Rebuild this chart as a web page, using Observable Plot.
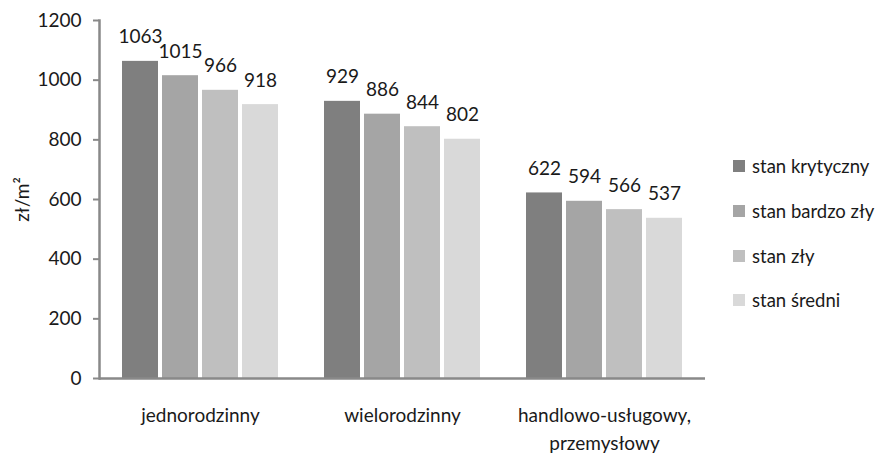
<!DOCTYPE html>
<html>
<head>
<meta charset="utf-8">
<script src="https://cdn.jsdelivr.net/npm/d3@7"></script>
<script src="https://cdn.jsdelivr.net/npm/@observablehq/plot@0.6"></script>
<style>
  html, body { margin: 0; padding: 0; background: #fff; }
  #wrap { position: relative; width: 875px; height: 454px; font-family: Lato, "Noto Sans", sans-serif; color: #1a1a1a; }
  #legend { position: absolute; left: 733px; top: 0; }
  .item { position: absolute; left: 0; white-space: nowrap; font-size: 18.5px; line-height: 20px; display: flex; align-items: center; }
  .sw { width: 12px; height: 12px; margin-right: 7px; display: inline-block; }
</style>
</head>
<body>
<div id="wrap"><div id="chart"></div><div id="legend"></div></div>
<script>
const categories = ["jednorodzinny", "wielorodzinny", "handlowo-usługowy,\nprzemysłowy"];
const series = ["stan krytyczny", "stan bardzo zły", "stan zły", "stan średni"];
const valuesJednorodzinny = [1063, 1015, 966, 918];
const valuesWielorodzinny = [929, 886, 844, 802];
const valuesHandlowo = [622, 594, 566, 537];
const colors = ["#7f7f7f", "#a5a5a5", "#bfbfbf", "#d9d9d9"];
const yTicks = [0, 200, 400, 600, 800, 1000, 1200];
const yLabel = "zł/m²";

const valueRows = [valuesJednorodzinny, valuesWielorodzinny, valuesHandlowo];
const data = categories.flatMap((c, i) => series.map((s, j) => ({category: c, series: s, value: valueRows[i][j]})));

const chart = Plot.plot({
  width: 875,
  height: 454,
  marginLeft: 99,
  marginRight: 170,
  marginTop: 20,
  marginBottom: 76,
  style: {fontFamily: "Lato, 'Noto Sans', sans-serif", fontSize: "19px", color: "#1a1a1a", background: "#fff"},
  fx: {domain: categories, padding: 0, label: null},
  x: {domain: series, paddingInner: 0.094, paddingOuter: 0.552, axis: null},
  y: {domain: [0, 1200]},
  color: {domain: series, range: colors},
  marks: [
    Plot.barY(data, {fx: "category", x: "series", y: "value", fill: "series"}),
    Plot.text(data, {fx: "category", x: "series", y: "value", text: d => String(d.value), dy: -24, fontSize: 19, fill: "#1a1a1a"}),
    Plot.frame({anchor: "left", fx: () => categories[0], stroke: "#898989", strokeWidth: 2.5}),
    Plot.ruleY([0], {stroke: "#898989", strokeWidth: 2.5}),
    Plot.axisY({ticks: yTicks, tickFormat: d => String(d), tickSize: 6, tickPadding: 12,
      stroke: "#898989", strokeWidth: 2, fill: "#1a1a1a", fontSize: 19,
      label: yLabel, labelAnchor: "center", labelOffset: 84, labelArrow: "none"}),
    Plot.axisFx({anchor: "bottom", tickSize: 0, tickPadding: 24, lineHeight: 1.45, label: null, fontSize: 19})
  ]
});
document.getElementById("chart").appendChild(chart);

const legend = document.getElementById("legend");
const rowY = [166, 211, 256, 300];
series.forEach((s, i) => {
  const item = document.createElement("div");
  item.className = "item";
  item.style.top = (rowY[i] - 10) + "px";
  const sw = document.createElement("span");
  sw.className = "sw";
  sw.style.background = colors[i];
  item.appendChild(sw);
  item.appendChild(document.createTextNode(s));
  legend.appendChild(item);
});
</script>
</body>
</html>
